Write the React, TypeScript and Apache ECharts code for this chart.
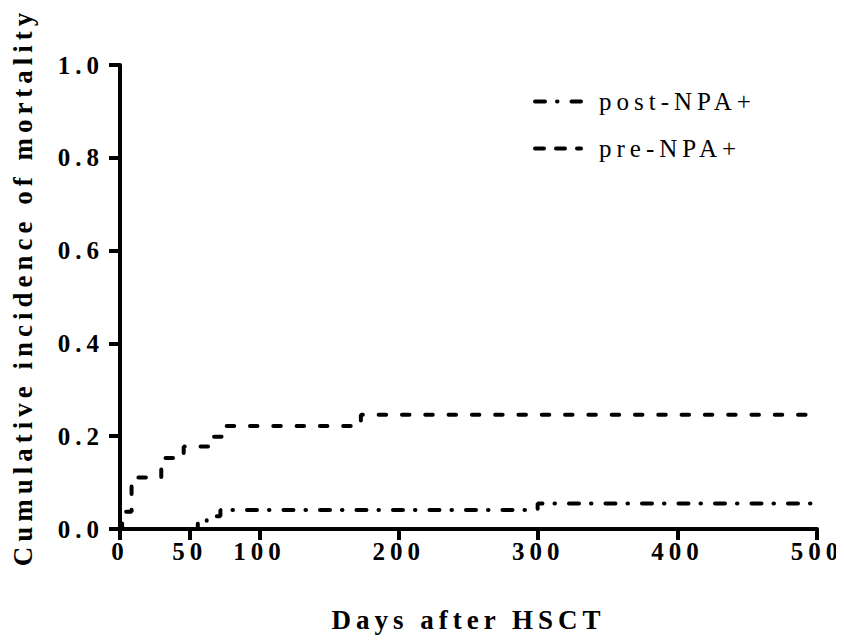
import React, { useEffect, useRef } from "react";
import * as echarts from "echarts";

const xTickValues = [0, 50, 100, 200, 300, 400, 500];
const yTickLabels = ["0.0", "0.2", "0.4", "0.6", "0.8", "1.0"];
const seriesNames = ["post-NPA+", "pre-NPA+"];
const preDays = [0, 1.5, 8.3, 29.6, 45.7, 65, 74.5, 172.8, 500];
const preValues = [0, 0.037, 0.111, 0.153, 0.178, 0.199, 0.222, 0.246, 0.246];
const postDays = [0, 55.8, 62.2, 72, 299.6, 500];
const postValues = [0, 0.0137, 0.0274, 0.041, 0.055, 0.055];

const FONT = "'Liberation Serif', 'Times New Roman', serif";
const postDash = [10, 12, 0.5, 14];
const preDash = [7.5, 15.8];
const preLegendDash = [9, 12];

export default function App() {
  const ref = useRef<HTMLDivElement>(null);
  useEffect(() => {
    if (!ref.current) return;
    const chart = echarts.init(ref.current, undefined, { renderer: "svg" });
    const zip = (xs: number[], ys: number[]) => xs.map((x, i) => [x, ys[i]]);
    const hiddenSymbol = { color: "rgba(0,0,0,0)", opacity: 0, borderWidth: 0 };
    chart.setOption({
      animation: false,
      backgroundColor: "#ffffff",
      grid: { left: 120, right: 27, top: 65, bottom: 115, containLabel: false },
      legend: {
        orient: "vertical",
        left: 528,
        top: 84,
        itemWidth: 46,
        itemHeight: 14,
        itemGap: 22,
        textStyle: {
          fontFamily: FONT,
          fontSize: 25,
          lineHeight: 25,
          color: "#000",
          padding: [0, 0, 0, 13],
        },
        data: [
          {
            name: seriesNames[0],
            lineStyle: { width: 4, type: postDash, cap: "round", color: "#000" },
            itemStyle: hiddenSymbol,
          },
          {
            name: seriesNames[1],
            lineStyle: { width: 4, type: preLegendDash, cap: "round", color: "#000" },
            itemStyle: hiddenSymbol,
          },
        ],
      },
      xAxis: {
        type: "value",
        min: 0,
        max: 500,
        interval: 50,
        name: "Days after HSCT",
        nameLocation: "middle",
        nameGap: 77,
        nameTextStyle: { fontFamily: FONT, fontSize: 27, fontWeight: "bold", color: "#000" },
        splitLine: { show: false },
        axisLine: { show: true, lineStyle: { color: "#000", width: 4 } },
        axisTick: {
          show: true,
          length: 11,
          inside: false,
          lineStyle: { color: "#000", width: 4 },
          customValues: xTickValues,
        },
        axisLabel: {
          fontFamily: FONT,
          fontSize: 25,
          fontWeight: "bold",
          color: "#000",
          margin: 10,
          customValues: xTickValues,
          formatter: (v: number) => String(v),
        },
      },
      yAxis: {
        type: "value",
        min: 0,
        max: 1,
        interval: 0.2,
        name: "Cumulative incidence of mortality",
        nameLocation: "middle",
        nameGap: 84,
        nameTextStyle: {
          fontFamily: FONT,
          fontSize: 27,
          fontWeight: "bold",
          color: "#000",
          padding: [0, 0, 0, 20],
        },
        splitLine: { show: false },
        axisLine: { show: true, lineStyle: { color: "#000", width: 4 } },
        axisTick: { show: true, length: 11, inside: false, lineStyle: { color: "#000", width: 4 } },
        axisLabel: {
          fontFamily: FONT,
          fontSize: 25,
          fontWeight: "bold",
          color: "#000",
          margin: 16,
          formatter: (v: number) => yTickLabels[Math.round(v * 5)] ?? v.toFixed(1),
        },
      },
      series: [
        {
          name: seriesNames[0],
          type: "line",
          step: "end",
          symbol: "none",
          data: zip(postDays, postValues),
          lineStyle: { color: "#000", width: 4, type: postDash, cap: "round" },
          itemStyle: { color: "#000" },
          z: 3,
        },
        {
          name: seriesNames[1],
          type: "line",
          step: "end",
          symbol: "none",
          data: zip(preDays, preValues),
          lineStyle: { color: "#000", width: 4, type: preDash, cap: "round" },
          itemStyle: { color: "#000" },
          z: 3,
        },
      ],
    });
    return () => chart.dispose();
  }, []);
  return (
    <div
      ref={ref}
      style={{ width: 844, height: 644, margin: -8, letterSpacing: "5px", background: "#fff" }}
    />
  );
}
